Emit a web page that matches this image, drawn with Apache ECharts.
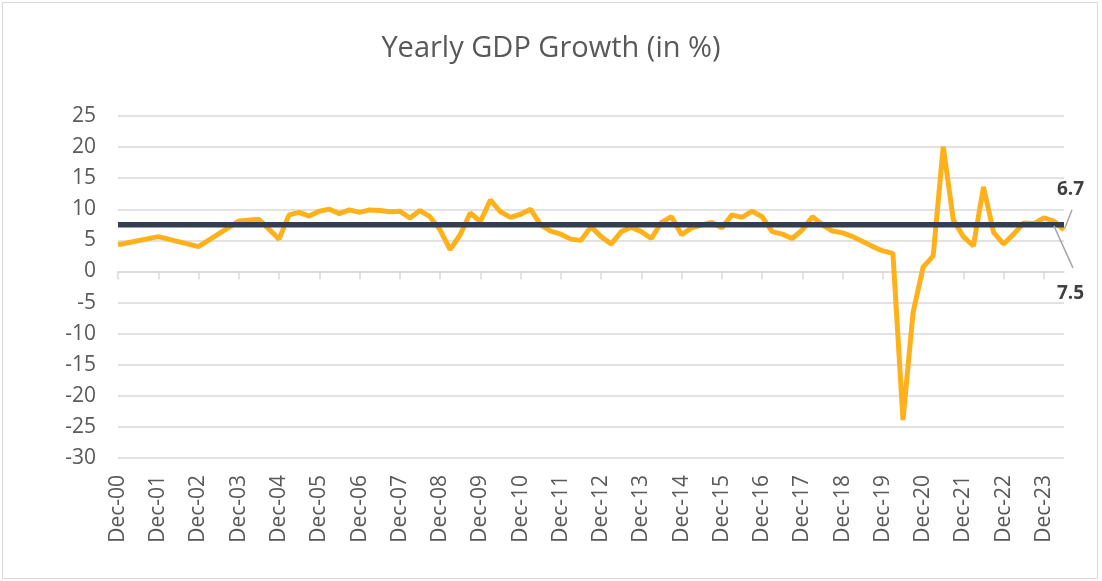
<!DOCTYPE html>
<html>
<head>
<meta charset="utf-8">
<title>Yearly GDP Growth</title>
<script src="https://cdn.jsdelivr.net/npm/echarts@6/dist/echarts.min.js"></script>
<style>
    html, body {margin: 0; padding: 0; background: #fff;}
    #box {position: absolute; left: 2px; top: 2px; width: 1094px; height: 575px; border: 1px solid #d9d9d9;}
    #myChart {position: absolute; left: 0; top: 0; width: 1102px; height: 581px;}
</style>
</head>
<body>
<div id="box"></div>
<div id="myChart"></div>
<script>
// quarters from Dec-00 to Jun-24
var months = ['Mar', 'Jun', 'Sep', 'Dec'];
var categories = ['Dec-00'];
for (var y = 1; y <= 24; y++) {
    for (var q = 0; q < 4; q++) {
        if (y == 24 && q > 1) break;
        categories.push(months[q] + '-' + (y < 10 ? '0' + y : '' + y));
    }
}

// growth in %, null = no value (line goes straight across)
var growth = [
    4.3, null, null, null, 5.6, null, null, null, 4.0, null, null, null,
    8.1, null, 8.4, null, 5.2, 9.1, 9.5, 8.9, 9.7, 10.0, 9.3, 9.9,
    9.5, 9.9, 9.8, 9.6, 9.7, 8.6, 9.8, 8.8, 6.7, 3.5, 5.9, 9.4,
    8.0, 11.5, 9.6, 8.7, 9.2, 10.0, 7.5, 6.5, 6.0, 5.2, 5.0, 7.2,
    5.6, 4.4, 6.4, 7.1, 6.4, 5.3, 7.9, 8.8, 5.9, 7.0, 7.5, 7.9,
    7.0, 9.1, 8.7, 9.7, 8.8, 6.4, 6.0, 5.3, 6.7, 8.8, 7.5, 6.5,
    6.2, 5.6, 4.8, 4.0, 3.3, 2.9, -23.9, -6.6, 0.7, 2.5, 20.1, 8.3,
    5.6, 4.1, 13.6, 6.3, 4.4, 6.0, 7.8, 7.7, 8.6, 8.1, 6.7
];
var meanValue = 7.5;
var meanPoints = ['Dec-00', 'Mar-24', 'Jun-24'];

var yMin = -30, yMax = 25, yStep = 5;

var textColor = '#595959';
var fontName = 'Open Sans';
var lastIdx = growth.length - 1;

var growthData = growth.map(function (v, i) {
    if (i == lastIdx) {
        return {value: v, label: {show: true}};
    }
    return v;
});
var meanData = meanPoints.map(function (c, i) {
    if (i == 1) {
        return {value: [c, meanValue], label: {show: true}};
    }
    return [c, meanValue];
});

var labelStyle = {
    show: false,
    position: 'right',
    distance: 0,
    color: '#404040',
    fontSize: 19,
    fontWeight: 'bold',
    fontFamily: fontName
};

var myChart = echarts.init(document.getElementById('myChart'));
var option = {
    animation: false,
    title: {
        text: 'Yearly GDP Growth (in %)',
        left: 'center',
        top: 29,
        textStyle: {color: textColor, fontSize: 29, fontWeight: 'normal', fontFamily: fontName}
    },
    grid: {left: 118, right: 38, top: 116, bottom: 123},
    xAxis: [
        {
            type: 'category',
            data: categories,
            boundaryGap: false,
            axisLine: {onZero: true, lineStyle: {color: '#d9d9d9', width: 1.5}},
            axisTick: {show: true, interval: 3, length: 8, lineStyle: {color: '#d9d9d9', width: 1.5}},
            axisLabel: {show: false},
            splitLine: {show: false}
        },
        {
            type: 'category',
            data: categories,
            boundaryGap: false,
            position: 'bottom',
            axisLine: {show: false},
            axisTick: {show: false},
            axisLabel: {
                interval: 3,
                rotate: 90,
                margin: 17,
                color: textColor,
                fontSize: 21,
                fontFamily: fontName
            }
        }
    ],
    yAxis: {
        type: 'value',
        min: yMin,
        max: yMax,
        interval: yStep,
        axisLine: {show: false},
        axisTick: {show: false},
        axisLabel: {color: textColor, fontSize: 21, fontFamily: fontName, margin: 22},
        splitLine: {lineStyle: {color: '#d9d9d9', width: 1.5}}
    },
    series: [
        {
            name: 'GDP Growth',
            type: 'line',
            xAxisIndex: 0,
            data: growthData,
            connectNulls: true,
            showSymbol: true,
            showAllSymbol: true,
            symbol: 'circle',
            symbolSize: 0,
            lineStyle: {color: '#ffb11b', width: 5},
            itemStyle: {color: '#ffb11b'},
            label: labelStyle,
            labelLayout: {dx: -7, dy: -40},
            z: 2
        },
        {
            name: 'Average',
            type: 'line',
            xAxisIndex: 0,
            data: meanData,
            showSymbol: true,
            showAllSymbol: true,
            symbol: 'circle',
            symbolSize: 0,
            lineStyle: {color: '#333f50', width: 5.5},
            itemStyle: {color: '#333f50'},
            label: labelStyle,
            labelLayout: {dx: 3, dy: 69},
            z: 3
        }
    ]
};
myChart.setOption(option);

// leader lines from the labelled points to their labels
var pLast = myChart.convertToPixel({xAxisIndex: 0, yAxisIndex: 0}, [lastIdx, growth[lastIdx]]);
var pMean = myChart.convertToPixel({xAxisIndex: 0, yAxisIndex: 0}, [meanPoints[1], meanValue]);
myChart.setOption({
    graphic: [
        {
            type: 'line',
            z: 10,
            shape: {x1: pLast[0] + 1, y1: pLast[1] - 2, x2: pLast[0] + 8, y2: pLast[1] - 20},
            style: {stroke: '#a6a6a6', lineWidth: 1.5}
        },
        {
            type: 'line',
            z: 10,
            shape: {x1: pMean[0], y1: pMean[1] + 1, x2: pMean[0] + 19, y2: pMean[1] + 43},
            style: {stroke: '#a6a6a6', lineWidth: 1.5}
        }
    ]
});
</script>
</body>
</html>
